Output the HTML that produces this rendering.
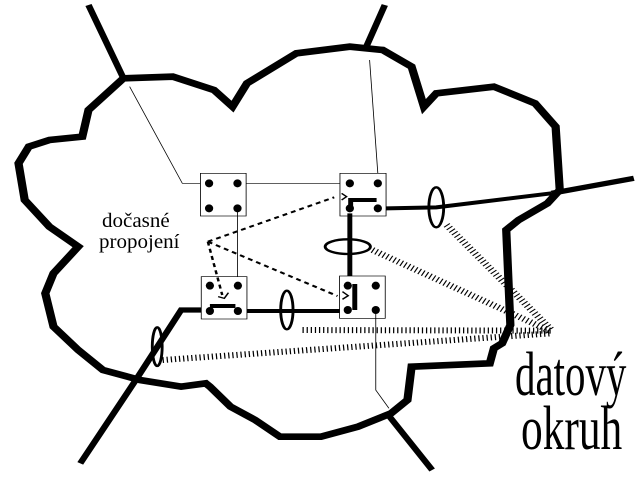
<!DOCTYPE html>
<html><head><style>html,body{margin:0;padding:0;background:#fff;overflow:hidden}svg{display:block;position:absolute;left:0;top:0}
.t{position:absolute;font-family:"Liberation Serif","DejaVu Serif",serif;color:#000;white-space:nowrap;line-height:1;transform-origin:0 0}</style></head><body>
<svg width="640" height="480" viewBox="0 0 1555 1440" preserveAspectRatio="none" xmlns="http://www.w3.org/2000/svg">
<rect width="1555" height="1440" fill="#fff"/>
<g fill="none" stroke="#000" stroke-linejoin="miter">
<path stroke-width="20" d="M1240,975 L1220,1030 L1200,1045 L1190,1090 L1000,1100 L990,1200 L950,1240 L870,1280 L780,1310 L680,1310 L620,1260 L560,1220 L510,1160 L500,1150 L440,1160 L340,1140 L250,1110 L190,1050 L130,980 L110,880 L130,820 L190,740 L120,680 L60,600 L45,490 L70,440 L120,420 L200,410 L215,330 L300,235 L420,230 L520,270 L565,320 L600,250 L720,160 L850,140 L930,150 L1000,200 L1030,320 L1060,280 L1200,260 L1300,310 L1350,380 L1360,570 L1330,610 L1260,660 L1230,690 Z"/>
<path stroke-width="16" d="M215,15 L300,235 M935,15 L890,140 M1340,580 L1540,535 M195,1390 L330,1140 L440,930 L489,930 M940,1240 L1050,1410"/>
<path stroke-width="2" d="M315,260 L443,550 L487,550 M598,550 L826,550 M898,180 L918,520 M577,625 L577,830 M913,930 L913,1170 L945,1225"/>
<path stroke-width="12" d="M938,625 L1060,622 L1340,580 M850,640 L850,828 M600,933 L825,933 M852,628 L852,600 L915,600 M862,852 L862,930 M510,918 L572,918"/>
<rect x="487" y="520" width="111" height="128" stroke-width="2"/>
<rect x="826" y="520" width="112" height="128" stroke-width="2"/>
<rect x="489" y="830" width="111" height="127" stroke-width="2"/>
<rect x="825" y="828" width="111" height="127" stroke-width="2"/>
<ellipse cx="1060" cy="622" rx="18" ry="60" stroke-width="7"/>
<ellipse cx="845" cy="740" rx="55" ry="22" stroke-width="7"/>
<ellipse cx="697" cy="930" rx="15" ry="58" stroke-width="7"/>
<ellipse cx="382" cy="1040" rx="12" ry="58" stroke-width="7"/>
<path stroke-width="18" stroke-dasharray="3 7" d="M1085,675 L1340,990 M905,750 L1340,995 M735,990 L1340,992 M395,1080 L1340,1000"/>
<path stroke-width="6" stroke-dasharray="12 10" d="M505,725 L812,592 M505,725 L820,888 M505,725 L540,885"/>
<path stroke-width="4" d="M830,580 L842,590 L830,600 M832,875 L846,887 L832,898 M530,890 L545,895 L555,878"/>
</g>
<g fill="#000">
<ellipse cx="508" cy="550" rx="10" ry="12"/><ellipse cx="577" cy="550" rx="10" ry="12"/><ellipse cx="508" cy="625" rx="10" ry="12"/><ellipse cx="577" cy="625" rx="10" ry="12"/>
<ellipse cx="850" cy="550" rx="10" ry="12"/><ellipse cx="918" cy="550" rx="10" ry="12"/><ellipse cx="850" cy="625" rx="10" ry="12"/><ellipse cx="918" cy="625" rx="10" ry="12"/>
<ellipse cx="510" cy="857" rx="10" ry="12"/><ellipse cx="578" cy="857" rx="10" ry="12"/><ellipse cx="510" cy="933" rx="10" ry="12"/><ellipse cx="578" cy="933" rx="10" ry="12"/>
<ellipse cx="845" cy="857" rx="10" ry="12"/><ellipse cx="913" cy="857" rx="10" ry="12"/><ellipse cx="845" cy="930" rx="10" ry="12"/><ellipse cx="913" cy="930" rx="10" ry="12"/>
</g>
</svg>
<div class="t" style="left:102px;top:211px;font-size:20px;transform:scaleX(1.05)">dočasné</div>
<div class="t" style="left:99px;top:232px;font-size:20px;transform:scaleX(1.05)">propojení</div>
<div class="t" style="left:515px;top:344px;font-size:62px;transform:scaleX(0.66)">datový</div>
<div class="t" style="left:521px;top:398px;font-size:62px;transform:scaleX(0.7)">okruh</div>
</body></html>
